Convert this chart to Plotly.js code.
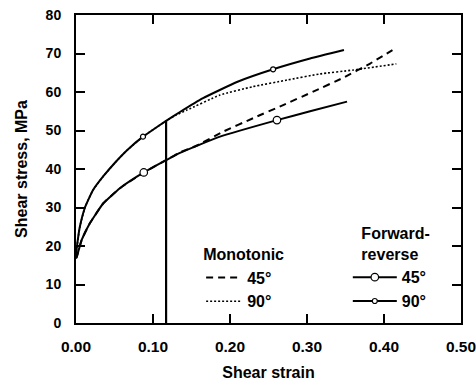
<!DOCTYPE html>
<html>
<head>
<meta charset="utf-8">
<script src="https://cdn.plot.ly/plotly-3.0.1.min.js"></script>
<style>html,body{margin:0;padding:0;background:#fff;}#chart{width:476px;height:383px;}</style>
</head>
<body>
<div id="chart"></div>
<script>
// Forward-reverse 90° (upper solid curve)
const fr90X = [0, 0.001, 0.005, 0.012, 0.022, 0.035, 0.050, 0.067, 0.087, 0.100, 0.117, 0.135, 0.165, 0.209, 0.256, 0.304, 0.348];
const fr90Y = [17.5, 19.5, 25.0, 30.2, 34.5, 38.0, 41.5, 45.0, 48.4, 50.2, 52.5, 54.8, 58.4, 62.6, 65.9, 68.7, 70.9];
const fr90MarkX = [0.087, 0.256];
const fr90MarkY = [48.4, 65.9];

// Forward-reverse 45° (lower solid curve)
const fr45X = [0, 0.001, 0.0074, 0.018, 0.0355, 0.057, 0.088, 0.117, 0.135, 0.187, 0.261, 0.304, 0.352];
const fr45Y = [16.8, 17.2, 21.6, 25.9, 31.1, 35.0, 39.1, 42.3, 44.2, 48.4, 52.7, 55.0, 57.5];
const fr45MarkX = [0.088, 0.261];
const fr45MarkY = [39.1, 52.7];

// Monotonic 90° (dotted)
const mo90X = [0, 0.001, 0.005, 0.012, 0.022, 0.035, 0.050, 0.067, 0.087, 0.100, 0.117, 0.130, 0.144, 0.187, 0.230, 0.274, 0.317, 0.360, 0.416];
const mo90Y = [17.5, 19.5, 25.0, 30.2, 34.5, 38.0, 41.5, 45.0, 48.4, 50.2, 52.5, 54.0, 55.3, 59.2, 61.4, 63.1, 64.7, 65.7, 67.3];

// Monotonic 45° (dashed)
const mo45X = [0, 0.001, 0.0074, 0.018, 0.0355, 0.057, 0.088, 0.117, 0.135, 0.157, 0.191, 0.230, 0.269, 0.308, 0.347, 0.382, 0.411];
const mo45Y = [16.8, 17.2, 21.6, 25.9, 31.1, 35.0, 39.1, 42.3, 44.3, 46.1, 49.7, 53.2, 56.6, 60.1, 63.7, 67.4, 70.9];

// Vertical line at reversal strain
const revX = [0.117, 0.117];
const revY = [0, 52.5];

const xTicks = [0, 0.1, 0.2, 0.3, 0.4, 0.5];
const xTickLabels = ['0.00', '0.10', '0.20', '0.30', '0.40', '0.50'];
const yTicks = [0, 10, 20, 30, 40, 50, 60, 70, 80];

const FONT = 'Liberation Sans, Arial, sans-serif';
const f = (s) => ({family: FONT, size: s, color: '#000', weight: 'bold'});

const traces = [
  {x: mo45X, y: mo45Y, mode: 'lines', name: '45°', legend: 'legend',
   line: {color: '#000', width: 2, dash: '7px,5px', shape: 'spline', smoothing: 0.4}},
  {x: mo90X, y: mo90Y, mode: 'lines', name: '90°', legend: 'legend',
   line: {color: '#000', width: 1.6, dash: '2px,2px', shape: 'spline', smoothing: 0.4}},
  {x: fr45X, y: fr45Y, mode: 'lines', showlegend: false,
   line: {color: '#000', width: 2, shape: 'spline', smoothing: 0.4}},
  {x: fr90X, y: fr90Y, mode: 'lines', showlegend: false,
   line: {color: '#000', width: 2, shape: 'spline', smoothing: 0.4}},
  {x: [fr45MarkX[0], null, fr45MarkX[1]], y: [fr45MarkY[0], null, fr45MarkY[1]],
   mode: 'lines+markers', name: '45°', legend: 'legend2', connectgaps: false,
   line: {color: '#000', width: 2},
   marker: {symbol: 'circle', size: 7.5, color: '#fff', line: {color: '#000', width: 1.2}}},
  {x: [fr90MarkX[0], null, fr90MarkX[1]], y: [fr90MarkY[0], null, fr90MarkY[1]],
   mode: 'lines+markers', name: '90°', legend: 'legend2', connectgaps: false,
   line: {color: '#000', width: 2},
   marker: {symbol: 'circle', size: 5, color: '#fff', line: {color: '#000', width: 1.2}}},
  {x: revX, y: revY, mode: 'lines', showlegend: false,
   line: {color: '#000', width: 2.2}}
];

const axisCommon = {
  showgrid: false, zeroline: false, showline: true, linecolor: '#000', linewidth: 2,
  ticks: 'inside', ticklen: 9, tickwidth: 2, tickcolor: '#000', mirror: 'ticks',
  ticklabeloverflow: 'allow'
};

const layout = {
  width: 476, height: 383,
  margin: {l: 76, r: 15, t: 15, b: 60},
  paper_bgcolor: '#fff', plot_bgcolor: '#fff',
  font: f(15),
  xaxis: Object.assign({}, axisCommon, {
    range: [0, 0.5], tickvals: xTicks, ticktext: xTickLabels, ticklabelstandoff: 8,
    tickfont: f(15.5),
    title: {text: 'Shear strain', font: f(16), standoff: 13}
  }),
  yaxis: Object.assign({}, axisCommon, {
    range: [0, 80], tickvals: yTicks, ticklabelstandoff: 10,
    tickfont: f(14),
    title: {text: 'Shear stress, MPa', font: f(16), standoff: 14}
  }),
  legend: {
    x: 0.325, y: 0.014, xanchor: 'left', yanchor: 'bottom', itemwidth: 36,
    bgcolor: 'rgba(0,0,0,0)', font: f(16), traceorder: 'normal',
    title: {text: 'Monotonic', font: f(16), side: 'top center'}
  },
  legend2: {
    x: 0.706, y: 0.014, xanchor: 'left', yanchor: 'bottom', itemwidth: 44,
    bgcolor: 'rgba(0,0,0,0)', font: f(16), traceorder: 'normal',
    title: {text: 'Forward-<br>reverse', font: f(16), side: 'top right'}
  },
  showlegend: true
};

Plotly.newPlot('chart', traces, layout, {displayModeBar: false, staticPlot: true});
</script>
</body>
</html>
